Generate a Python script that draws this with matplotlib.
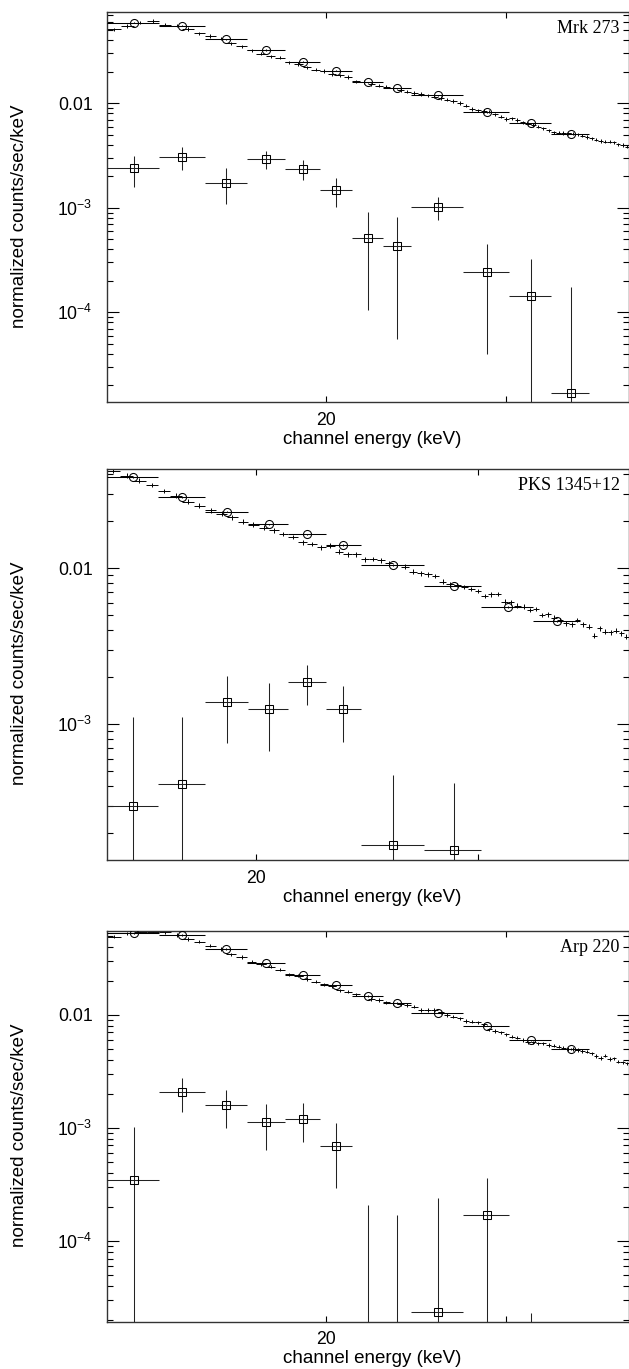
import numpy as np
import matplotlib
matplotlib.use("Agg")
import matplotlib.pyplot as plt
from matplotlib.ticker import FixedLocator, FixedFormatter, NullLocator, LogLocator, NullFormatter

plt.rcParams['font.family'] = ['Liberation Sans', 'DejaVu Sans']
plt.rcParams['mathtext.fontset'] = 'custom'
plt.rcParams['mathtext.rm'] = 'Liberation Sans'
plt.rcParams['mathtext.it'] = 'Liberation Sans:italic'
plt.rcParams['mathtext.bf'] = 'Liberation Sans:bold'

# ---------------- data ----------------
# rebinned channel edges (keV)
edges_a = [12.2, 13.7, 15.2, 16.7, 18.2, 19.7, 21.2, 22.7, 24.2, 27.2, 30.2, 33.2, 36.2]
edges_b = [15.2, 16.7, 18.2, 19.7, 21.2, 22.7, 24.2, 27.2, 30.2, 33.2, 36.2]
# fine (background) channels: start energy and width (keV)
fine_start_a = 12.2
fine_start_b = 15.2
fine_width = 0.375

# Mrk 273
mrk_tot = [0.0590, 0.0553, 0.0412, 0.0324, 0.0250, 0.0205, 0.0159, 0.0139, 0.0119, 0.00825, 0.00644, 0.00512]
mrk_src = [2.39e-3, 3.06e-3, 1.74e-3, 2.93e-3, 2.35e-3, 1.49e-3, 5.11e-4, 4.34e-4, 1.02e-3, 2.45e-4, 1.43e-4, 1.68e-5]
mrk_src_hi = [3.15e-3, 3.82e-3, 2.39e-3, 3.52e-3, 2.85e-3, 1.94e-3, 9.06e-4, 8.11e-4, 1.26e-3, 4.53e-4, 3.24e-4, 1.76e-4]
mrk_src_lo = [1.59e-3, 2.32e-3, 1.09e-3, 2.35e-3, 1.83e-3, 1.02e-3, 1.06e-4, 5.52e-5, 7.64e-4, 3.96e-5, 1e-7, 1e-7]
mrk_bkg = [0.0511, 0.0549, 0.0593, 0.0613, 0.0565, 0.0553, 0.0514, 0.0468, 0.0441, 0.0415, 0.0375, 0.0353,
           0.0321, 0.0298, 0.0283, 0.0273, 0.0247, 0.0238, 0.0221, 0.0210, 0.0204, 0.0189, 0.0185, 0.0179,
           0.0162, 0.0160, 0.0152, 0.0147, 0.01442, 0.01392, 0.01340, 0.01291,
           0.01255, 0.01227, 0.01193, 0.01157, 0.01124, 0.01082, 0.01052, 0.01007,
           0.00948, 0.00882, 0.00857, 0.00844, 0.00831, 0.00785, 0.00744, 0.00708,
           0.00719, 0.00692, 0.00658, 0.00638, 0.00620, 0.00597, 0.00577, 0.00552,
           0.00528, 0.00523, 0.00520, 0.00516, 0.00512, 0.00505, 0.00490, 0.00476,
           0.00462, 0.00448, 0.00436, 0.00429, 0.00429, 0.00423, 0.00405, 0.00399, 0.00384]

# PKS 1345+12
pks_tot = [0.0383, 0.0285, 0.0231, 0.0191, 0.0165, 0.01404, 0.0105, 0.00774, 0.00567, 0.00457]
pks_src = [3.01e-4, 4.14e-4, 1.396e-3, 1.248e-3, 1.875e-3, 1.259e-3, 1.684e-4, 1.564e-4]
pks_src_hi = [1.119e-3, 1.119e-3, 2.04e-3, 1.832e-3, 2.40e-3, 1.76e-3, 4.73e-4, 4.19e-4]
pks_src_lo = [1e-7, 1e-7, 7.62e-4, 6.74e-4, 1.33e-3, 7.70e-4, 1e-7, 1e-7]
pks_bkg = [0.0422, 0.0392, 0.0364, 0.0342, 0.0313, 0.0292, 0.0267, 0.0252, 0.0235, 0.0224, 0.0212, 0.0199,
           0.0190, 0.0182, 0.0175, 0.0166, 0.0159, 0.0147, 0.0143, 0.01364, 0.01396, 0.01278, 0.01229, 0.01229,
           0.0114, 0.01147, 0.01125, 0.01076, 0.01050, 0.01024, 0.00951, 0.00929, 0.00915, 0.00893,
           0.00821, 0.00790, 0.00782, 0.00759, 0.00737, 0.00715, 0.00664, 0.00681, 0.00684, 0.00611,
           0.00605, 0.00576, 0.00567, 0.00540, 0.00548, 0.00502, 0.00507, 0.00482, 0.00466, 0.00444,
           0.00438, 0.00466, 0.00438, 0.00422, 0.00370, 0.00413, 0.00392, 0.00389, 0.00398, 0.00383, 0.00364]

# Arp 220
arp_tot = [0.0525, 0.0508, 0.0382, 0.0285, 0.0223, 0.0182, 0.01466, 0.01272, 0.01044, 0.00801, 0.00595, 0.00498]
arp_src = [3.46e-4, 2.064e-3, 1.585e-3, 1.135e-3, 1.19e-3, 6.96e-4, 5e-6, 5e-6, 2.37e-5, 1.698e-4, 5e-6]
arp_src_hi = [1.025e-3, 2.745e-3, 2.163e-3, 1.637e-3, 1.65e-3, 1.105e-3, 2.08e-4, 1.698e-4, 2.41e-4, 3.58e-4, 2.32e-5]
arp_src_lo = [1e-7, 1.39e-3, 1.004e-3, 6.34e-4, 7.46e-4, 2.92e-4, 1e-7, 1e-7, 1e-7, 1e-7, 1e-7]
arp_bkg = [0.0490, 0.0525, 0.0543, 0.0543, 0.0537, 0.0508, 0.0468, 0.0443, 0.0408, 0.0382, 0.0343, 0.0324,
           0.0295, 0.0280, 0.0266, 0.0251, 0.0228, 0.0222, 0.0207, 0.0196, 0.0186, 0.0180, 0.01647, 0.01601,
           0.01518, 0.01475, 0.01379, 0.01352, 0.01290, 0.01264, 0.01238, 0.01221,
           0.01179, 0.01102, 0.01102, 0.01102, 0.01052, 0.00996, 0.00962, 0.00931,
           0.00882, 0.00869, 0.00858, 0.00824, 0.00745, 0.00719, 0.00700, 0.00672,
           0.00640, 0.00627, 0.00599, 0.00571, 0.00571, 0.00560, 0.00560, 0.00541,
           0.00533, 0.00522, 0.00512, 0.00498, 0.00498, 0.00488, 0.00478, 0.00472,
           0.00456, 0.00432, 0.00417, 0.00435, 0.00407, 0.00413, 0.00385, 0.00380, 0.00372]

tot_rel_err = 0.012
bkg_rel_err = 0.035

panels = [
    dict(name="Mrk 273", edges=edges_a, tot=mrk_tot, src=mrk_src, hi=mrk_src_hi, lo=mrk_src_lo,
         fine0=fine_start_a, bkg=mrk_bkg, xlim=(12.18, 39.54), ylim=(1.377e-5, 0.0753),
         yticks=[1e-4, 1e-3, 1e-2], ylabels=["10$^{-4}$", "10$^{-3}$", "0.01"]),
    dict(name="PKS 1345+12", edges=edges_b, tot=pks_tot, src=pks_src, hi=pks_src_hi, lo=pks_src_lo,
         fine0=fine_start_b, bkg=pks_bkg, xlim=(15.2, 39.54), ylim=(1.349e-4, 0.0433),
         yticks=[1e-3, 1e-2], ylabels=["10$^{-3}$", "0.01"]),
    dict(name="Arp 220", edges=edges_a, tot=arp_tot, src=arp_src, hi=arp_src_hi, lo=arp_src_lo,
         fine0=fine_start_a, bkg=arp_bkg, xlim=(12.18, 39.54), ylim=(1.934e-5, 0.0554),
         yticks=[1e-4, 1e-3, 1e-2], ylabels=["10$^{-4}$", "10$^{-3}$", "0.01"]),
]

# ---------------- figure ----------------
W, H = 629, 1369
fig = plt.figure(figsize=(W / 100, H / 100), dpi=100)

# axes boxes in pixels: (left, top, right, bottom)
boxes = [(106.7, 11.7, 628.5, 402.3), (106.7, 469.0, 628.5, 860.0), (106.7, 930.7, 628.5, 1321.7)]

lw = 0.75
for p, (l, t, r, b) in zip(panels, boxes):
    ax = fig.add_axes([l / W, 1 - b / H, (r - l) / W, (b - t) / H])
    ax.set_xscale('log')
    ax.set_yscale('log')

    e = np.array(p['edges'])
    lo_e, hi_e = e[:-1], e[1:]
    cen = 0.5 * (lo_e + hi_e)
    tot = np.array(p['tot'])
    ax.errorbar(cen, tot, xerr=[cen - lo_e, hi_e - cen], yerr=tot * tot_rel_err,
                fmt='o', ms=5.8, mfc='none', mec='k', mew=lw, ecolor='k',
                elinewidth=lw, capsize=0, zorder=4)

    n = len(p['src'])
    src = np.array(p['src'])
    shi = np.array(p['hi'])
    slo = np.array(p['lo'])
    ax.errorbar(cen[:n], src, xerr=[(cen - lo_e)[:n], (hi_e - cen)[:n]],
                yerr=[src - slo, shi - src], fmt='s', ms=6.3, mfc='none', mec='k',
                mew=lw, ecolor='#222222', elinewidth=lw, capsize=0, zorder=3)

    bkg = np.array(p['bkg'])
    fe = p['fine0'] + fine_width * np.arange(len(bkg) + 1)
    fc = 0.5 * (fe[:-1] + fe[1:])
    ax.errorbar(fc, bkg, xerr=[fc - fe[:-1], fe[1:] - fc], yerr=bkg * bkg_rel_err,
                fmt='none', ecolor='k', elinewidth=0.7, capsize=0, zorder=2)

    ax.set_xlim(*p['xlim'])
    ax.set_ylim(*p['ylim'])

    ax.xaxis.set_major_locator(FixedLocator([20, 30]))
    ax.xaxis.set_major_formatter(FixedFormatter(["20", ""]))
    ax.xaxis.set_minor_locator(NullLocator())
    ax.yaxis.set_major_locator(FixedLocator(p['yticks']))
    ax.yaxis.set_major_formatter(FixedFormatter(p['ylabels']))
    ax.yaxis.set_minor_locator(LogLocator(base=10, subs=np.arange(2, 10)))
    ax.yaxis.set_minor_formatter(NullFormatter())

    ax.tick_params(which='both', direction='in', top=True, right=True, width=0.8, colors='k')
    ax.tick_params(axis='x', which='major', length=4.5, labelsize=12.7, pad=7)
    ax.tick_params(axis='y', which='major', length=8.5, labelsize=12.7, pad=10)
    ax.tick_params(axis='y', which='minor', length=4.5)
    for s in ax.spines.values():
        s.set_linewidth(1.0)
        s.set_color('#333333')

    ax.text(0.983, 0.957, p['name'], transform=ax.transAxes, ha='right', va='center',
            fontsize=13, family=['Liberation Serif', 'DejaVu Serif'])

    # axis labels
    fig.text(372.5 / W, 1 - (b + 37) / H, "channel energy (keV)", ha='center', va='center',
             fontsize=13.5)
    fig.text(20 / W, 1 - ((t + b) / 2 + 9) / H, "normalized counts/sec/keV", ha='center',
             va='center', rotation=90, fontsize=13.5)

fig.savefig("out.png", dpi=100)
